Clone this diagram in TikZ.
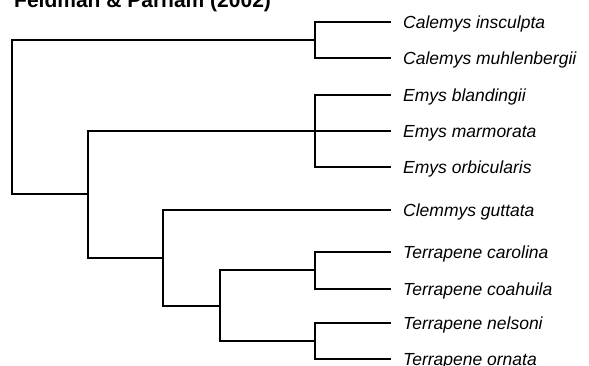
\documentclass[tikz,border=0pt]{standalone}
\usepackage{fontspec}
\setmainfont{Liberation Sans}
\begin{document}
\begin{tikzpicture}[x=1pt,y=-1pt,
  branch/.style={line width=2.4pt, line join=miter},
  leaflabel/.style={anchor=base west, inner sep=0pt, font=\fontsize{17.5}{20}\selectfont\itshape},
  titlelabel/.style={anchor=base west, inner sep=0pt, font=\fontsize{21}{24}\selectfont\bfseries}]
\useasboundingbox (0,0) rectangle (589,365);
\node[titlelabel] (title) at (14,7) {Feldman \& Parham (2002)};
% leaf line ends
\coordinate (l1) at (391,22);
\coordinate (l2) at (391,58);
\coordinate (l3) at (391,95);
\coordinate (l4) at (391,131);
\coordinate (l5) at (391,167);
\coordinate (l6) at (391,210);
\coordinate (l7) at (391,252);
\coordinate (l8) at (391,289);
\coordinate (l9) at (391,323);
\coordinate (l10) at (391,359);
% internal nodes
\coordinate (cal) at (315,40);
\coordinate (emy) at (315,131);
\coordinate (t1) at (315,270);
\coordinate (t2) at (315,341);
\coordinate (tt) at (220,306);
\coordinate (cb) at (163,258);
\coordinate (ab) at (88,194);
\coordinate (root) at (12,117);
% labels
\node[leaflabel] (n1) at (403,28) {Calemys insculpta};
\node[leaflabel] (n2) at (403,64) {Calemys muhlenbergii};
\node[leaflabel] (n3) at (403,101) {Emys blandingii};
\node[leaflabel] (n4) at (403,137) {Emys marmorata};
\node[leaflabel] (n5) at (403,173) {Emys orbicularis};
\node[leaflabel] (n6) at (403,216) {Clemmys guttata};
\node[leaflabel] (n7) at (403,258) {Terrapene carolina};
\node[leaflabel] (n8) at (403,295) {Terrapene coahuila};
\node[leaflabel] (n9) at (403,329) {Terrapene nelsoni};
\node[leaflabel] (n10) at (403,365) {Terrapene ornata};
% branches
\draw[branch] (cal) |- (l1);
\draw[branch] (cal) |- (l2);
\draw[branch] (emy) |- (l3);
\draw[branch] (emy) -- (l4);
\draw[branch] (emy) |- (l5);
\draw[branch] (t1) |- (l7);
\draw[branch] (t1) |- (l8);
\draw[branch] (t2) |- (l9);
\draw[branch] (t2) |- (l10);
\draw[branch] (tt) |- (t1);
\draw[branch] (tt) |- (t2);
\draw[branch] (cb) |- (l6);
\draw[branch] (cb) |- (tt);
\draw[branch] (ab) |- (emy);
\draw[branch] (ab) |- (cb);
\draw[branch] (root) |- (cal);
\draw[branch] (root) |- (ab);
\end{tikzpicture}
\end{document}
